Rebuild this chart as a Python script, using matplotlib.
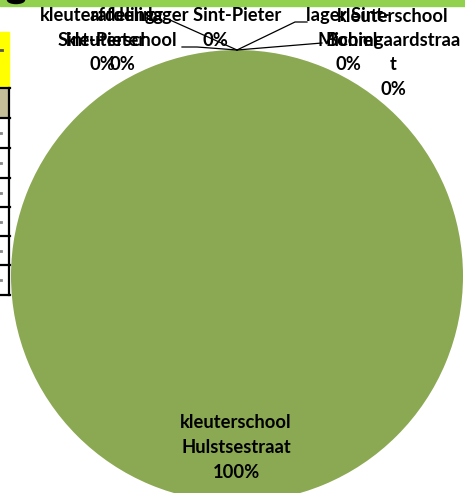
import matplotlib
matplotlib.use('Agg')
import matplotlib.pyplot as plt
from matplotlib.patches import Rectangle, Ellipse
import numpy as np

# data
categories = ['kleuterafdeling Sint-Pieter', 'afdeling kleuterschool',
              'lager Sint-Pieter', 'lager Sint-Michiel',
              'kleuterschool Boomgaardstraat', 'kleuterschool Hulstsestraat']
values = [0, 0, 0, 0, 0, 100]
# how each label is wrapped in the picture
label_lines = [['kleuterafdeling', 'Sint-Pieter'],
               ['afdeling', 'kleuterschool'],
               ['lager Sint-Pieter'],
               ['lager Sint-', 'Michiel'],
               ['kleuterschool', 'Boomgaardstraa', 't'],
               ['kleuterschool', 'Hulstsestraat']]

W, H = 465, 493
pie_color = '#8BA852'
font = ['Lato', 'DejaVu Sans']

fig = plt.figure(figsize=(W / 100, H / 100), dpi=100)

# pie (center ~ (237, 276) px, radius ~ 226 px)
cx, cy, r = 237, 276, 226
ax = fig.add_axes([(cx - r) / W, (H - cy - r) / H, 2 * r / W, 2 * r / H])
wedges, _ = ax.pie(values, startangle=90, counterclock=False,
                   colors=[pie_color] * len(values),
                   wedgeprops=dict(linewidth=0))
ax.set_xlim(-1, 1)
ax.set_ylim(-1, 1)

# overlay in pixel coords for the spreadsheet bits and labels
ov = fig.add_axes([0, 0, 1, 1])
ov.set_xlim(0, W)
ov.set_ylim(H, 0)
ov.axis('off')
ov.patch.set_alpha(0)

# spreadsheet leftovers around the chart
ov.add_patch(Rectangle((0, 0), W, 6, color='#92D050', zorder=1))
ov.add_patch(Ellipse((16, 0), 17, 7, color='black', zorder=2))
ov.add_patch(Rectangle((0, 32), 9, 56, color='#FFFF00', zorder=1))
ov.add_patch(Rectangle((0, 88), 9, 30, facecolor='#C4BD97', edgecolor='none', zorder=1))
ov.plot([9, 9], [88, 295], color='black', lw=1.6, zorder=2)
for yy in [88, 118, 148, 178, 207, 236, 265, 295]:
    ov.plot([0, 10], [yy, yy], color='black', lw=1.6, zorder=2)
ov.plot([0, 1.5], [50, 50], color='#555555', lw=2, zorder=2)
for yy in [133, 163, 193, 222, 251, 280]:
    ov.plot([0, 1.2], [yy, yy], color='#888888', lw=2, zorder=2)

# apex where the zero slices sit
th = wedges[0].theta1
p = ax.transData.transform((np.cos(np.radians(th)), np.sin(np.radians(th))))
apx, apy = ov.transData.inverted().transform(p)

# label positions (center x, top line y) and leader lines
pos = [(102, 16), (122, 16), (215, 16), (348, 16), (393, 16), (236, 423)]
leaders = [[(170, 20)], [(182, 47), (197, 47)], None,
           [(307, 22), (295, 22)], [(322, 43)], None]
step = 24.5
fs = 13.2
for i, cat in enumerate(categories):
    lines = label_lines[i] + ['%d%%' % round(values[i] / sum(values) * 100)]
    x, y = pos[i]
    for k, ln in enumerate(lines):
        ov.text(x, y + k * step, ln, ha='center', va='center', fontsize=fs,
                fontweight='bold', family=font, color='black', zorder=4)
    if leaders[i]:
        pts = leaders[i] + [(apx, apy)]
        ov.plot([q[0] for q in pts], [q[1] for q in pts], color='black',
                lw=0.9, zorder=3)

fig.savefig('out.png', dpi=100)
